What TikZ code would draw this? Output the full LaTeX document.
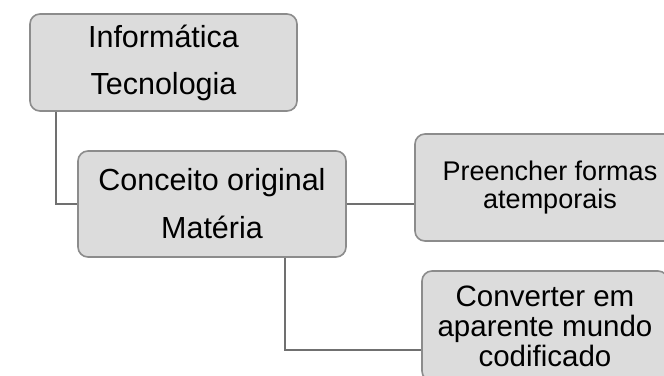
\documentclass[tikz,border=0pt]{standalone}
\usepackage{fontspec}
\setmainfont{Liberation Sans}
\definecolor{boxfill}{HTML}{DCDCDC}
\definecolor{boxline}{HTML}{8C8C8C}
\definecolor{linkline}{HTML}{707070}
\begin{document}
\begin{tikzpicture}[x=1pt,y=-1pt,
  topic/.style={draw=boxline, fill=boxfill, line width=1.6pt, rounded corners=10pt,
    align=center, inner sep=0pt, text=black},
  link/.style={draw=linkline, line width=1.8pt}]
\useasboundingbox (0,0) rectangle (664,375);
\fill[white] (0,0) rectangle (664,375);

\node[topic, minimum width=267pt, minimum height=97pt,
  font=\fontsize{30.5}{47}\selectfont] (b1) at (163.5,62.5)
  {Informática\\Tecnologia};
\node[topic, minimum width=268pt, minimum height=106pt,
  font=\fontsize{30.5}{48}\selectfont] (b2) at (212,204)
  {Conceito original\\Matéria};
\node[topic, minimum width=270pt, minimum height=107pt,
  font=\fontsize{27}{28}\selectfont] (b3) at (550,187.5)
  {Preencher formas\\atemporais};
\node[topic, minimum width=246pt, minimum height=110pt,
  font=\fontsize{29.5}{30}\selectfont] (b4) at (545,326)
  {Converter em\\aparente mundo\\codificado};

\draw[link] ([xshift=27pt]b1.south west) |- (b2.west);
\draw[link] (b2.east) -- (b2.east -| b3.west);
\draw[link] ([xshift=208pt]b2.south west) |- ([yshift=-24pt]b4.west);
\end{tikzpicture}
\end{document}
